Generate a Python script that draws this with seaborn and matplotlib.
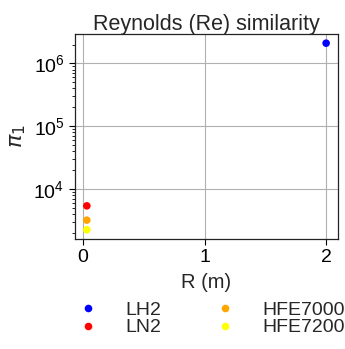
import matplotlib
matplotlib.use("Agg")
import matplotlib.pyplot as plt
import seaborn as sns
import pandas as pd

fluids = ["LH2", "LN2", "HFE7000", "HFE7200"]
radius_m = [2.0, 0.03, 0.03, 0.03]
pi1 = [2.1e6, 5400, 3200, 2250]
colors = ["blue", "red", "orange", "yellow"]

df = pd.DataFrame({"fluid": fluids, "R": radius_m, "pi1": pi1})

sns.set_style("whitegrid")
plt.rcParams["font.family"] = ["Liberation Sans", "DejaVu Sans"]
plt.rcParams["mathtext.fontset"] = "dejavusans"

fig, ax = plt.subplots(figsize=(3.45, 3.49), dpi=100)
sns.scatterplot(data=df, x="R", y="pi1", hue="fluid", palette=colors,
                s=30, edgecolor="none", ax=ax, legend=True)
ax.set_yscale("log")
ax.set_title("Reynolds (Re) similarity", fontsize=15.5, pad=3)
ax.set_xlabel("R (m)", fontsize=14.5, labelpad=5)
ax.set_ylabel(r"$\pi_1$", fontsize=16)
ax.tick_params(labelsize=14, length=4, color="black", left=True, bottom=True,
               which="major", labelcolor="black")
ax.tick_params(which="minor", left=True, length=2, color="black")
ax.grid(True, which="major", color="#b0b0b0", linewidth=0.8)
ax.grid(False, which="minor")
for s in ax.spines.values():
    s.set_edgecolor("#222222")
    s.set_linewidth(0.9)
ax.set_xticks([0, 1, 2])

ax.legend(loc="upper center", bbox_to_anchor=(0.5, -0.265), ncol=2, frameon=False,
          fontsize=14, handletextpad=0.9, columnspacing=2.3, labelspacing=0.0,
          borderaxespad=0)

fig.subplots_adjust(left=0.217, right=0.98, top=0.903, bottom=0.315)
fig.savefig("out.png", dpi=100)
